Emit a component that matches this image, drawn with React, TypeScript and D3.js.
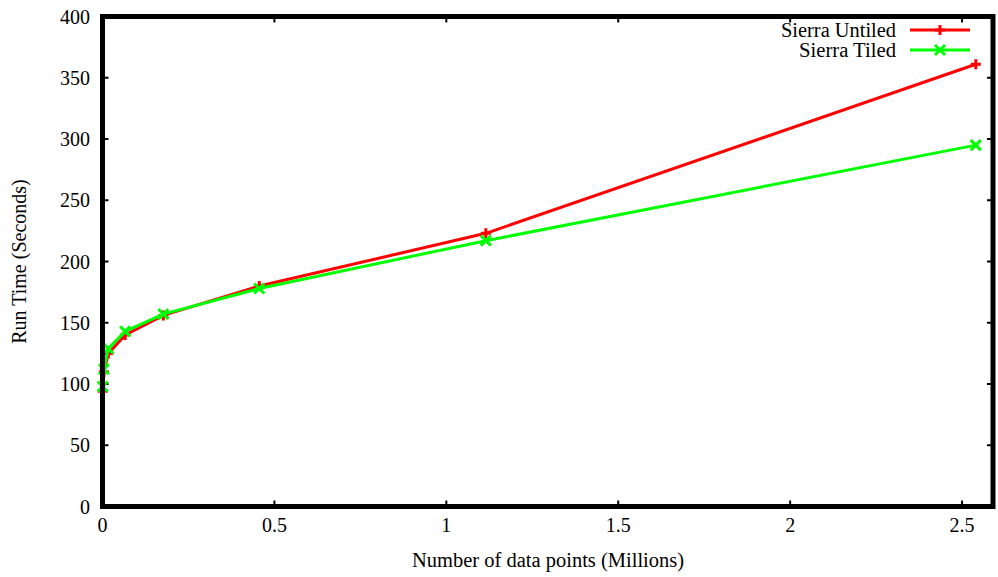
import React, { useEffect, useRef } from 'react';
import * as d3 from 'd3';

// data
const dataPoints = [0.0005, 0.004, 0.017, 0.066, 0.177, 0.456, 1.115, 2.54];
const untiledTimes = [94, 110, 125, 140, 156, 180, 223, 361];
const tiledTimes = [98, 112, 129, 143, 157, 178, 217, 295];
const xTicks = [0, 0.5, 1, 1.5, 2, 2.5];
const yTicks = [0, 50, 100, 150, 200, 250, 300, 350, 400];

const seriesNames = ['Sierra Untiled', 'Sierra Tiled'];
const seriesColors = ['#ff0000', '#00ff00'];
const legendWidths = [115, 97];

export default function App() {
  const chartRef = useRef<SVGSVGElement | null>(null);

  useEffect(() => {
    if (!chartRef.current) return;
    const svg = d3.select(chartRef.current);
    svg.selectAll('*').remove();

    const left = 102.5, right = 993, top = 16.5, bottom = 506.5;
    const font = "'Liberation Serif', 'Times New Roman', serif";

    const x = d3.scaleLinear().domain([0, 2.59]).range([left, right]);
    const y = d3.scaleLinear().domain([0, 400]).range([bottom, top]);

    const series = [untiledTimes, tiledTimes].map((vals, i) => ({
      name: seriesNames[i],
      color: seriesColors[i],
      values: vals.map((v, j) => ({ x: dataPoints[j], y: v }))
    }));

    // tick marks (inward, mirrored like gnuplot)
    const ticks = svg.append('g').attr('stroke', '#000').attr('stroke-width', 2);
    yTicks.forEach(t => {
      ticks.append('line').attr('x1', left).attr('x2', left + 6).attr('y1', y(t)).attr('y2', y(t));
      ticks.append('line').attr('x1', right).attr('x2', right - 6).attr('y1', y(t)).attr('y2', y(t));
    });
    xTicks.forEach(t => {
      ticks.append('line').attr('x1', x(t)).attr('x2', x(t)).attr('y1', bottom).attr('y2', bottom - 6);
      ticks.append('line').attr('x1', x(t)).attr('x2', x(t)).attr('y1', top).attr('y2', top + 6);
    });

    // tick labels
    svg.append('g').selectAll('text').data(yTicks).join('text')
      .attr('x', 90).attr('y', d => y(d)).attr('dy', '0.35em')
      .attr('text-anchor', 'end').attr('font-family', font).attr('font-size', 20)
      .text(d => d);
    svg.append('g').selectAll('text').data(xTicks).join('text')
      .attr('x', d => x(d)).attr('y', 525).attr('dy', '0.35em')
      .attr('text-anchor', 'middle').attr('font-family', font).attr('font-size', 20)
      .text(d => d);

    // axis titles
    svg.append('text')
      .attr('x', 548).attr('y', 560).attr('dy', '0.35em')
      .attr('text-anchor', 'middle').attr('font-family', font).attr('font-size', 20.5)
      .text('Number of data points (Millions)');
    svg.append('text')
      .attr('transform', `translate(19,${(top + bottom) / 2}) rotate(-90)`)
      .attr('dy', '0.35em')
      .attr('text-anchor', 'middle').attr('font-family', font).attr('font-size', 20)
      .text('Run Time (Seconds)');

    const line = d3.line<{ x: number; y: number }>()
      .x(d => x(d.x))
      .y(d => y(d.y));

    const drawMarker = (g: any, cx: number, cy: number, i: number, color: string) => {
      const s = 5;
      const d = i === 0
        ? `M${cx - s},${cy}H${cx + s}M${cx},${cy - s}V${cy + s}`
        : `M${cx - s},${cy - s}L${cx + s},${cy + s}M${cx - s},${cy + s}L${cx + s},${cy - s}`;
      g.append('path')
        .attr('d', d)
        .attr('stroke', color).attr('stroke-width', 3).attr('fill', 'none');
    };

    series.forEach((s, i) => {
      svg.append('path')
        .datum(s.values)
        .attr('fill', 'none')
        .attr('stroke', s.color)
        .attr('stroke-width', 3)
        .attr('stroke-linejoin', 'round')
        .attr('d', line);
      const mg = svg.append('g');
      s.values.forEach(d => drawMarker(mg, x(d.x), y(d.y), i, s.color));

      // legend entry
      const ly = 30 + i * 20;
      svg.append('text')
        .attr('x', 896).attr('y', ly).attr('dy', '0.35em')
        .attr('text-anchor', 'end').attr('font-family', font).attr('font-size', 20)
        .attr('textLength', legendWidths[i]).attr('lengthAdjust', 'spacingAndGlyphs')
        .text(s.name);
      svg.append('line')
        .attr('x1', 910).attr('x2', 970).attr('y1', ly).attr('y2', ly)
        .attr('stroke', s.color).attr('stroke-width', 3);
      drawMarker(svg, 940, ly, i, s.color);
    });

    // frame
    svg.append('rect')
      .attr('x', left).attr('y', top)
      .attr('width', right - left).attr('height', bottom - top)
      .attr('fill', 'none').attr('stroke', '#000').attr('stroke-width', 5);
  }, []);

  return (
    <svg
      ref={chartRef}
      width={998}
      height={577}
      style={{ position: 'absolute', left: 0, top: 0, background: '#fff' }}
    />
  );
}
